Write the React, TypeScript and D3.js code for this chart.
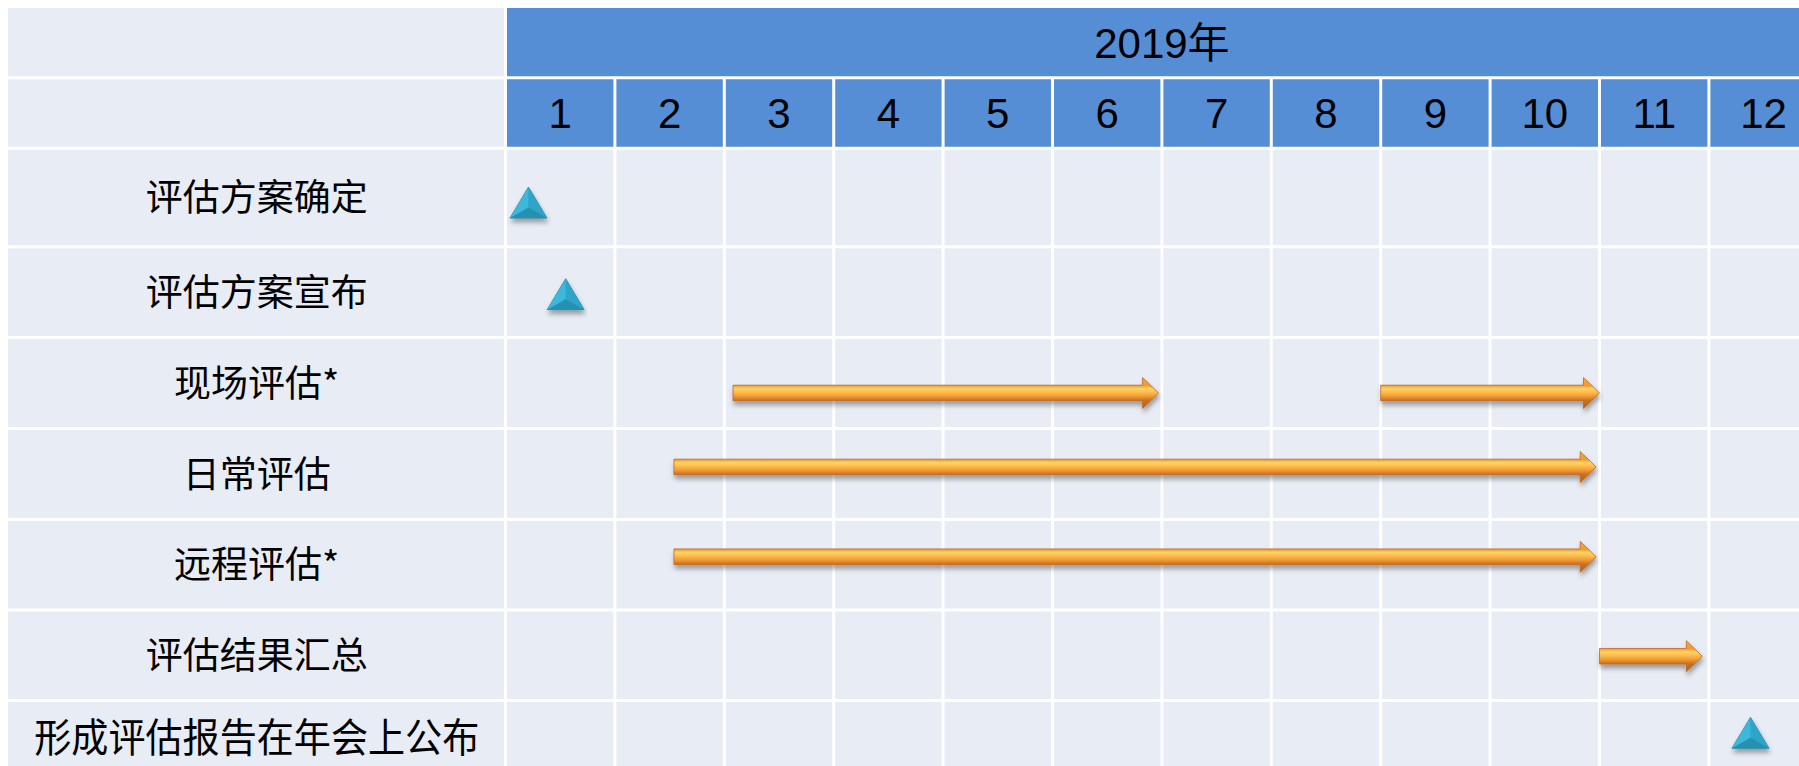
import React from "react";
import * as d3 from "d3";

// ---------- data ----------
const yearLabel = "2019年";
const months = ["1", "2", "3", "4", "5", "6", "7", "8", "9", "10", "11", "12"];
const tasks = [
  "评估方案确定",
  "评估方案宣布",
  "现场评估*",
  "日常评估",
  "远程评估*",
  "评估结果汇总",
  "形成评估报告在年会上公布",
];
// arrows (time in months since start of January)
const arrowTask = [2, 2, 3, 4, 5];
const arrowStart = [2.08, 8.0, 1.54, 1.54, 10.0];
const arrowEnd = [5.97, 10.0, 9.97, 9.97, 10.94];
// milestones (triangles)
const milestoneTask = [0, 1, 6];
const milestoneAt = [0.21, 0.55, 11.38];

// ---------- layout / style ----------
const W = 1799;
const H = 766;
const LEFT = 8;
const TOP = 8;
const LABEL_RIGHT = 505.5;
const COL_W = 109.4;
const HEADER1_BOTTOM = 77.8;
const HEADER2_BOTTOM = 148.3;
const rowHeights = [98.5, 90.7, 91, 91, 90.5, 90.5, 70.5];
const markOffset = [5, 2, 10, -7, -8, 1, -3];
const labelFontSize = [37, 37, 37, 37, 37, 37, 40];
const labelOffset = [0, 0, 0, 0, 0, 0, 1];
const lastLabelWidth = 445;
const BLUE = "#558ED5";
const CELL = "#E8ECF4";
const GRID = 3;

export default function App() {
  const x = d3
    .scaleLinear()
    .domain([0, months.length])
    .range([LABEL_RIGHT, LABEL_RIGHT + months.length * COL_W]);

  const rowTops: number[] = [];
  let acc = HEADER2_BOTTOM;
  rowHeights.forEach((h) => {
    rowTops.push(acc);
    acc += h;
  });
  const bottom = acc;
  const rowCenter = (i: number) => rowTops[i] + rowHeights[i] / 2;

  const hLines = [HEADER1_BOTTOM, ...rowTops];
  const monthIdx = d3.range(months.length);

  const arrowPath = (x0: number, x1: number, yc: number) => {
    const h = 7.8, Hh = 15.5, L = 16;
    return `M${x0},${yc - h}L${x1 - L},${yc - h}L${x1 - L},${yc - Hh}L${x1},${yc}L${x1 - L},${yc + Hh}L${x1 - L},${yc + h}L${x0},${yc + h}Z`;
  };

  const latin = "'Liberation Sans', Arial, 'Noto Sans CJK SC', sans-serif";
  const cjk = "'Noto Sans CJK SC', 'Liberation Sans', sans-serif";

  return (
    <svg
      width={W}
      height={H}
      style={{ position: "absolute", left: 0, top: 0, display: "block" }}
    >
      <defs>
        <linearGradient id="arrowGrad" x1="0" y1="0" x2="0" y2="1">
          <stop offset="0" stopColor="#F6A83E" />
          <stop offset="0.26" stopColor="#F39A30" />
          <stop offset="0.36" stopColor="#FFD365" />
          <stop offset="0.46" stopColor="#FCC04F" />
          <stop offset="0.6" stopColor="#F29B33" />
          <stop offset="0.74" stopColor="#C96F22" />
          <stop offset="1" stopColor="#B5601C" />
        </linearGradient>
        <linearGradient id="triGrad" x1="0" y1="0" x2="1" y2="0">
          <stop offset="0" stopColor="#40BEE0" />
          <stop offset="1" stopColor="#2C9CC0" />
        </linearGradient>
        <filter id="shadow" x="-10%" y="-50%" width="120%" height="220%">
          <feDropShadow dx="1" dy="4" stdDeviation="2.5" floodColor="#000" floodOpacity="0.35" />
        </filter>
      </defs>

      {/* backgrounds */}
      <rect x={LEFT} y={TOP} width={W - LEFT} height={bottom - TOP} fill={CELL} />
      <rect x={LABEL_RIGHT} y={TOP} width={W - LABEL_RIGHT} height={HEADER2_BOTTOM - TOP} fill={BLUE} />

      {/* grid lines */}
      {hLines.map((y, i) => (
        <line key={"h" + i} x1={LEFT} x2={W} y1={y} y2={y} stroke="#fff" strokeWidth={GRID} />
      ))}
      <line x1={LABEL_RIGHT} x2={LABEL_RIGHT} y1={TOP} y2={bottom} stroke="#fff" strokeWidth={GRID} />
      {monthIdx.slice(1).map((m) => (
        <line key={"v" + m} x1={x(m)} x2={x(m)} y1={HEADER1_BOTTOM} y2={bottom} stroke="#fff" strokeWidth={GRID} />
      ))}

      {/* header texts */}
      <text
        x={x(months.length / 2)}
        y={(TOP + HEADER1_BOTTOM) / 2}
        dy="0.36em"
        textAnchor="middle"
        fontFamily={latin}
        fontSize={42}
        fill="#000"
      >
        {yearLabel}
      </text>
      {months.map((m, i) => (
        <text
          key={"m" + i}
          x={x(i + 0.5)}
          y={(HEADER1_BOTTOM + HEADER2_BOTTOM) / 2}
          dy="0.36em"
          textAnchor="middle"
          fontFamily={latin}
          fontSize={42}
          fill="#000"
        >
          {m}
        </text>
      ))}

      {/* task labels */}
      {tasks.map((t, i) => {
        const isLast = i === tasks.length - 1;
        return (
          <text
            key={"t" + i}
            x={(LEFT + LABEL_RIGHT) / 2}
            y={rowCenter(i) + labelOffset[i]}
            dy="0.37em"
            textAnchor="middle"
            fontFamily={cjk}
            fontSize={labelFontSize[i]}
            fill="#000"
            {...(isLast ? { textLength: lastLabelWidth, lengthAdjust: "spacingAndGlyphs" } : {})}
          >
            {t}
          </text>
        );
      })}

      {/* arrows */}
      {arrowTask.map((r, i) => {
        const yc = rowCenter(r) + markOffset[r];
        return (
          <g key={"a" + i} filter="url(#shadow)">
            <path
              d={arrowPath(x(arrowStart[i]), x(arrowEnd[i]), yc)}
              fill="url(#arrowGrad)"
              stroke="#C0661E"
              strokeWidth={0.8}
            />
          </g>
        );
      })}

      {/* milestones */}
      {milestoneTask.map((r, i) => {
        const cx = x(milestoneAt[i]);
        const yc = rowCenter(r) + markOffset[r];
        const hw = 18.5, hh = 15.5;
        const ax = cx, ay = yc - hh;
        const lx = cx - hw, ly = yc + hh;
        const rx = cx + hw, ry = yc + hh;
        const ix = cx, iy = yc + 5;
        return (
          <g key={"ms" + i} filter="url(#shadow)">
            <polygon points={`${ax},${ay} ${lx},${ly} ${rx},${ry}`} fill="url(#triGrad)" stroke="#1F82A0" strokeWidth={0.8} />
            <polygon points={`${ax},${ay} ${lx},${ly} ${ix},${iy}`} fill="#3CB8DA" />
            <polygon points={`${ax},${ay} ${ix},${iy} ${rx},${ry}`} fill="#2FA5C8" />
            <polygon points={`${lx},${ly} ${ix},${iy} ${rx},${ry}`} fill="#2790B0" />
          </g>
        );
      })}
    </svg>
  );
}
